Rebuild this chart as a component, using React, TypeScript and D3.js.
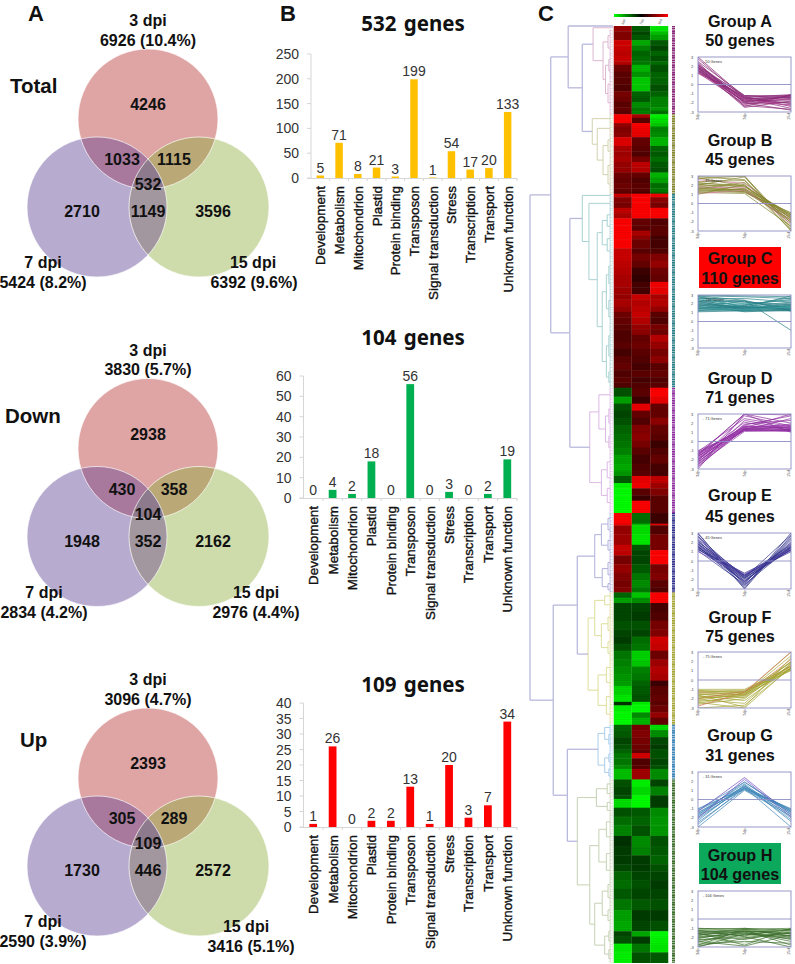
import React from "react";
import * as d3 from "d3";

const FONT = '"Liberation Sans", Arial, sans-serif';

// ---------- Panel A data ----------
const vennNames = ["Total", "Down", "Up"];
const vennRegions = [
  [4246, 1033, 1115, 532, 2710, 1149, 3596],
  [2938, 430, 358, 104, 1948, 352, 2162],
  [2393, 305, 289, 109, 1730, 446, 2572],
];
const vennTotals = [
  ["6926 (10.4%)", "5424 (8.2%)", "6392 (9.6%)"],
  ["3830 (5.7%)", "2834 (4.2%)", "2976 (4.4%)"],
  ["3096 (4.7%)", "2590 (3.9%)", "3416 (5.1%)"],
];
const vennDays = ["3 dpi", "7 dpi", "15 dpi"];

// ---------- Panel B data ----------
const categories = ["Development", "Metabolism", "Mitochondrion", "Plastid", "Protein binding", "Transposon", "Signal transduction", "Stress", "Transcription", "Transport", "Unknown function"];
const genes532 = [5, 71, 8, 21, 3, 199, 1, 54, 17, 20, 133];
const genes104 = [0, 4, 2, 18, 0, 56, 0, 3, 0, 2, 19];
const genes109 = [1, 26, 0, 2, 2, 13, 1, 20, 3, 7, 34];
const barTitles = ["532 genes", "104 genes", "109 genes"];

// ---------- Panel C data: heatmap rows [genes, 3 dpi, 7 dpi, 15 dpi] ----------
const rowsA = [[3,1.5,-0.9,-2.3],[2,1.3,-0.7,-1.9],[3,1.3,-0.9,-1.6],[3,2.1,-1.7,-0.9],[3,2.0,-1.3,-0.7],[3,1.9,-1.0,-1.0],[3,2.0,-1.1,-0.8],[2,1.8,-1.2,-1.1],[4,1.1,-1.8,-0.8],[3,0.9,-1.5,-1.0],[4,0.9,-2.0,-1.0],[4,0.8,-2.0,-0.8],[3,1.2,-1.0,-1.0],[3,1.1,-0.9,-1.3],[3,0.9,-1.4,-1.3],[2,1.0,-1.2,-1.5],[2,0.9,-1.3,-1.1]];
const rowsB = [[2,2.5,1.7,-2.4],[3,2.5,0.9,-2.2],[2,1.5,2.6,-2.0],[3,1.3,2.4,-1.3],[3,1.4,2.3,-1.4],[5,2.2,1.0,-1.8],[3,1.7,0.9,-1.0],[3,1.6,0.8,-0.9],[3,1.7,1.2,-1.1],[3,1.5,1.9,-0.9],[3,1.5,1.8,-0.8],[3,1.1,1.0,-1.8],[3,1.0,0.8,-1.6],[3,1.1,0.9,-1.1],[2,1.0,0.9,-1.2],[1,0.9,0.7,-1.0]];
const rowsC = [[2,2.0,2.6,2.4],[3,1.3,2.6,1.4],[3,1.2,2.5,1.2],[3,1.9,2.6,2.5],[3,1.7,2.5,2.6],[4,2.6,1.0,0.8],[3,2.6,0.9,0.9],[3,2.7,1.7,0.9],[2,2.6,1.4,0.7],[5,2.6,1.1,0.7],[3,2.0,0.9,0.8],[4,2.0,1.2,1.3],[4,1.9,1.0,1.5],[4,1.8,0.6,1.1],[4,1.7,0.5,1.0],[3,1.7,0.7,2.4],[4,1.6,0.7,2.3],[3,1.5,2.0,1.7],[4,1.7,1.8,1.8],[3,1.5,1.9,1.5],[3,1.1,2.0,0.9],[4,1.0,1.8,0.8],[3,0.9,1.5,1.2],[3,0.8,1.4,1.1],[4,0.8,1.0,1.8],[4,0.9,1.1,1.5],[4,0.7,0.9,1.2],[4,0.9,0.8,1.4],[4,1.0,0.7,0.9],[4,0.8,0.9,1.0],[3,0.9,0.7,0.8],[3,0.8,0.8,0.9]];
const rowsD = [[5,-0.8,0.9,2.5],[4,-1.6,0.6,2.3],[4,-0.8,2.3,1.0],[4,-0.7,1.0,1.0],[4,-0.8,0.8,1.4],[5,-1.0,1.3,1.0],[4,-1.1,1.4,0.9],[4,-1.2,1.2,0.6],[4,-1.3,0.9,0.8],[5,-1.6,0.7,1.0],[4,-1.7,0.8,0.7],[3,-1.5,0.9,0.7],[4,-0.9,2.3,1.9],[3,-2.4,2.4,1.6],[4,-2.6,0.9,1.3],[3,-2.6,0.6,0.9],[7,-2.6,2.6,0.9]];
const rowsE = [[6,2.5,-1.1,0.6],[1,2.3,-1.8,2.2],[5,1.5,-2.2,0.8],[6,1.6,-2.3,1.2],[3,2.0,-0.9,1.2],[3,1.9,-0.7,2.5],[5,1.2,-0.7,2.5],[5,1.5,-0.9,1.2],[4,1.3,-1.2,1.3],[4,1.2,-1.4,0.9],[3,1.3,-1.2,0.8]];
const rowsF = [[3,-1.0,-2.0,2.6],[3,-1.6,-1.4,2.6],[5,-0.7,-0.7,0.7],[5,-0.7,-0.6,0.8],[5,-0.8,-0.8,1.2],[4,-0.7,-0.7,1.3],[4,-0.6,-1.1,2.1],[4,-0.8,-1.2,2.0],[5,-1.2,-2.1,1.1],[4,-1.3,-2.0,1.6],[4,-1.4,-1.3,1.8],[4,-1.5,-1.2,1.7],[3,-1.6,-1.0,0.6],[5,-2.1,-0.9,0.9],[4,-2.3,-0.8,1.0],[2,-0.5,-2.4,0.9],[4,-2.4,-2.5,1.1],[3,-2.5,-1.4,1.5],[4,-2.6,-1.8,1.0]];
const rowsG = [[3,-1.0,1.2,-2.2],[4,-0.9,1.3,-1.4],[4,-0.7,1.2,-0.7],[3,-0.8,1.1,-0.6],[2,-1.0,1.0,-0.8],[3,-1.2,2.1,-0.8],[4,-1.2,0.8,-0.7],[2,-1.4,0.9,-0.8],[6,-1.9,1.6,-1.4]];
const rowsH = [[4,-0.8,-2.4,-0.7],[5,-0.7,-2.2,-1.3],[2,-0.8,-2.5,-0.6],[5,-2.2,-2.6,-0.6],[5,-0.8,-0.9,-1.4],[5,-1.1,-1.0,-1.5],[6,-1.3,-0.8,-1.5],[6,-0.5,-1.4,-0.8],[5,-0.6,-1.3,-0.9],[5,-0.6,-0.6,-1.0],[4,-0.7,-0.6,-0.8],[5,-1.0,-0.7,-0.7],[5,-1.1,-0.8,-0.6],[6,-0.9,-0.7,-0.7],[6,-1.2,-0.9,-0.8],[6,-1.6,-0.6,-0.6],[6,-1.7,-0.7,-0.8],[3,-0.7,-1.7,-2.5],[4,-0.8,-0.6,-2.4],[5,-2.3,-1.2,-2.3],[6,-2.4,-0.8,-0.9]];
const heatRows = [rowsA, rowsB, rowsC, rowsD, rowsE, rowsF, rowsG, rowsH];

const groupNames = ["Group A", "Group B", "Group C", "Group D", "Group E", "Group F", "Group G", "Group H"];
const groupGenes = [50, 45, 110, 71, 45, 75, 31, 104];
const groupColors = ["#8a2a78", "#85852e", "#2a8088", "#8f2f9f", "#34348f", "#a5a535", "#3f86b8", "#3c6f2c"];
const treeColors = ["#dcb6d0", "#d2d2ae", "#a9d2d2", "#dcb8e4", "#b0b0dc", "#dede9c", "#a8cdea", "#c6d2b4"];
const accentColors = ["#c04a98", "#d070a0", "#3aa0a0", "#b050c0", "#8050c0", "#d07050", "#7050c0", "#a0c090"];

// Cluster tree: [linkage height, child, child]; a plain number is a cluster of that many genes
const treeA = [24, 1, [12, [6, 7, 7], [9, [5, 6, 7], [6, 8, 13]]]];
const treeB = [25, 5, [19, 6, [12, [6, 7, 6], [6, 10, 11]]]];
const treeC = [37, 2, [29, 7, [19, [13, [7, 6, 7], [7, 7, 7]], [13, [8, [5, 10, 10], [5, 9, 10]], [8, [5, 11, 12], [5, 6, 6]]]]]];
const treeD = [28, [17, 8, [9, [5, 8, 8], [5, 7, 6]]], [14, [7, 10, 8], [7, 4, 12]]];
const treeE = [22, [14, [6, 6, 7], [6, 5, 6]], [13, [6, 8, 6], [6, 4, 3]]];
const treeF = [30, [22, [10, 4, 6], [14, [6, 8, 7], [6, 6, 7]]], [18, [8, 9, 8], [8, 8, 12]]];
const treeG = [18, [10, 3, [5, 5, 6]], [10, [5, 5, 4], [5, 4, 4]]];
const treeH = [43, [20, [7, 5, 6], [7, 4, 5]], [28, [17, [8, 8, 9], [8, 10, 9]], [22, [13, [6, 7, 8], [6, 6, 6]], [10, [5, 6, 5], [5, 5, 5]]]]];
const groupTrees = [treeA, treeB, treeC, treeD, treeE, treeF, treeG, treeH];
const fullTree = [100,
  [75, [54, 1, [37, treeA, treeB]], [52, treeC, treeD]],
  [72, [43, treeE, treeF], [55, treeG, treeH]],
];

// Expression profiles of sampled genes: [3 dpi, 7 dpi, 15 dpi]
const profA = [[3.0,-1.4,-2.1],[2.8,-1.5,-2.6],[2.5,-1.2,-1.3],[2.3,-1.8,-1.6],[2.2,-2.0,-1.2],[2.1,-1.3,-2.4],[2.0,-1.6,-1.2],[1.9,-2.5,-1.8],[1.9,-1.9,-2.2],[1.8,-1.4,-1.1],[1.7,-2.2,-1.5],[1.6,-1.7,-2.0],[1.6,-2.3,-2.7],[1.5,-1.5,-1.4],[1.4,-1.8,-1.7],[1.3,-2.1,-1.9],[1.3,-1.3,-1.2],[1.2,-1.6,-2.3],[2.4,-2.4,-1.1],[1.8,-2.0,-2.8],[2.1,-1.7,-1.4],[1.7,-1.5,-1.6],[1.5,-1.9,-1.3],[1.9,-1.2,-1.5]];
const profB = [[3.0,3.0,-2.8],[2.9,2.6,-3.0],[2.7,3.0,-2.4],[2.6,2.2,-1.6],[2.4,2.5,-2.1],[2.3,1.8,-1.3],[2.2,2.0,-1.9],[2.1,1.6,-1.1],[2.0,2.9,-2.6],[1.9,1.4,-1.5],[1.8,1.7,-2.2],[1.7,1.3,-1.2],[1.6,2.3,-1.7],[1.5,1.5,-2.0],[1.4,1.2,-1.0],[1.3,1.6,-1.4],[1.2,1.1,-2.5],[1.1,1.4,-1.8],[2.8,1.9,-1.2],[1.0,2.1,-2.9],[1.7,1.5,-1.6],[2.0,1.9,-1.4],[1.5,1.3,-1.8]];
const profC = [[2.9,2.4,-1.0],[2.9,2.8,2.6],[2.8,1.6,2.9],[2.7,2.0,1.3],[2.6,2.6,2.2],[2.5,1.4,2.0],[2.4,2.2,1.5],[2.3,1.8,2.7],[2.2,2.4,1.2],[2.1,1.3,1.8],[2.0,2.0,2.4],[1.9,1.7,1.4],[1.8,1.5,2.1],[1.7,2.3,1.6],[1.6,1.6,1.3],[1.5,1.2,1.9],[1.4,1.8,1.2],[1.3,1.4,1.6],[1.2,1.3,1.5],[1.1,1.2,1.3],[3.0,2.9,2.8],[2.2,1.5,1.7],[1.9,1.1,1.3],[1.5,1.9,2.5],[2.6,1.7,1.6],[2.3,1.3,1.4],[1.7,1.2,1.2],[2.0,1.6,1.5],[1.4,1.5,1.8],[1.2,1.7,2.2],[2.8,2.2,1.9],[1.6,1.3,1.7]];
const profD = [[-1.0,1.2,1.3],[-1.1,2.5,1.6],[-1.2,1.5,3.0],[-1.3,1.3,1.2],[-1.4,3.0,2.0],[-1.5,1.7,1.4],[-1.6,1.4,1.9],[-1.7,2.1,1.2],[-1.8,1.3,2.5],[-1.9,1.6,1.5],[-2.0,1.2,1.1],[-2.1,2.8,1.7],[-2.2,1.5,1.3],[-2.3,1.9,2.3],[-2.4,1.3,1.6],[-2.5,1.1,1.2],[-2.6,2.3,1.4],[-2.8,1.6,1.8],[-3.0,3.0,2.9],[-2.7,1.4,1.1],[-1.5,3.0,1.0],[-2.0,1.8,2.8],[-1.2,1.4,1.5],[-1.6,1.2,1.3],[-1.8,1.7,1.6],[-2.2,1.3,1.2],[-1.4,1.6,1.7]];
const profE = [[3.0,-2.9,3.0],[2.9,-2.6,2.2],[2.7,-3.0,2.7],[2.5,-2.2,1.9],[2.3,-1.6,1.5],[2.2,-2.4,2.5],[2.1,-1.8,1.2],[2.0,-1.5,1.7],[1.9,-2.0,1.4],[1.8,-2.3,2.0],[1.7,-1.4,1.1],[1.6,-1.7,1.6],[1.5,-2.1,1.3],[1.4,-1.5,1.0],[1.3,-1.9,1.8],[1.2,-1.3,1.2],[1.1,-2.5,1.5],[1.0,-1.6,1.3],[2.6,-1.8,2.8],[1.6,-2.7,2.4],[1.8,-1.6,1.4],[1.5,-1.8,1.2],[1.3,-2.2,1.6]];
const profF = [[-1.0,-1.0,1.4],[-1.1,-1.4,3.0],[-1.2,-1.1,1.2],[-1.3,-1.6,2.2],[-1.4,-1.2,1.0],[-1.5,-1.9,1.6],[-1.6,-1.3,1.9],[-1.7,-2.2,1.3],[-1.8,-1.5,2.6],[-1.9,-1.7,1.1],[-2.0,-1.2,1.5],[-2.1,-2.5,1.8],[-2.2,-1.4,1.2],[-2.3,-1.8,2.0],[-2.4,-3.0,1.4],[-2.5,-1.6,1.1],[-2.6,-2.0,1.7],[-2.8,-1.3,3.0],[-3.0,-2.7,1.3],[-1.6,-2.9,2.4],[-1.2,-1.3,1.3],[-1.5,-1.5,1.5],[-2.0,-1.6,1.9]];
const profG = [[-1.0,1.2,-1.0],[-1.1,1.9,-1.3],[-1.2,1.4,-1.1],[-1.3,2.4,-1.7],[-1.4,1.1,-1.2],[-1.5,1.7,-2.0],[-1.6,1.3,-1.4],[-1.7,1.9,-1.5],[-1.8,1.5,-2.2],[-1.9,1.2,-1.1],[-2.0,2.2,-1.9],[-2.1,1.4,-1.3],[-2.3,1.6,-2.4],[-2.5,1.1,-1.6],[-2.7,1.3,-3.0],[-3.0,1.0,-1.8]];
const profH = [[-1.0,-1.1,-1.0],[-1.0,-1.3,-1.1],[-1.1,-1.0,-1.2],[-1.2,-1.6,-1.0],[-1.3,-1.2,-1.5],[-1.4,-1.8,-1.1],[-1.5,-1.1,-1.9],[-1.6,-2.2,-1.3],[-1.7,-1.4,-2.4],[-1.8,-1.0,-1.6],[-1.9,-2.6,-1.2],[-2.0,-1.5,-2.0],[-2.1,-1.2,-2.8],[-2.2,-2.0,-1.4],[-2.3,-1.7,-1.1],[-2.4,-2.9,-1.7],[-2.5,-1.3,-2.2],[-2.6,-1.9,-1.3],[-2.7,-2.4,-2.6],[-2.8,-1.1,-1.8],[-2.9,-2.1,-1.5],[-3.0,-1.6,-2.1],[-1.5,-2.8,-1.0],[-1.2,-1.9,-3.0],[-1.1,-1.2,-1.3],[-1.3,-1.4,-1.2],[-1.6,-1.3,-1.6],[-1.9,-1.6,-1.8]];
const profiles = [profA, profB, profC, profD, profE, profF, profG, profH];
const profTicks = [3, 2, 1, 0, -1, -2, -3];
const profDays = ["3dp", "7dp", "15d"];

// ---------- Layout ----------
const vennOffset = [0, 329.5, 659];
const vennCircles = [[148, 119], [97, 207], [199, 207]];
const R = 70;
const regionPos = [[148, 110], [122, 165], [174, 165], [148, 190], [82, 217], [148, 217], [213, 217]];
// positions of the corner labels, per Venn: [7 dpi x, 15 dpi name x, 15 dpi total x, 15 dpi y shift]
const vennLabelPos = [[43, 253, 254, 0], [44, 256, 256, 0], [43, 246, 251, 5]];

function Venn({ index }: { index: number }) {
  const dy = vennOffset[index];
  const [a, b, c] = vennCircles;
  const id = (k: number) => `vc${index}${k}`;
  const [x7, x15a, x15b, sh] = vennLabelPos[index];
  const bold = { fontFamily: FONT, fontWeight: 700, fontSize: 16, fill: "#111", textAnchor: "middle" } as any;
  return (
    <g transform={`translate(0,${dy})`}>
      <defs>
        {vennCircles.map((p, k) => (
          <clipPath id={id(k)} key={k}><circle cx={p[0]} cy={p[1]} r={R} /></clipPath>
        ))}
      </defs>
      <circle cx={a[0]} cy={a[1]} r={R} fill="#dfa5a5" />
      <circle cx={b[0]} cy={b[1]} r={R} fill="#b8abd0" />
      <circle cx={c[0]} cy={c[1]} r={R} fill="#cedcab" />
      <g clipPath={`url(#${id(0)})`}><circle cx={b[0]} cy={b[1]} r={R} fill="#a8799d" /></g>
      <g clipPath={`url(#${id(0)})`}><circle cx={c[0]} cy={c[1]} r={R} fill="#baa876" /></g>
      <g clipPath={`url(#${id(1)})`}><circle cx={c[0]} cy={c[1]} r={R} fill="#a3979f" /></g>
      <g clipPath={`url(#${id(0)})`}><g clipPath={`url(#${id(1)})`}><circle cx={c[0]} cy={c[1]} r={R} fill="#8d7a8c" /></g></g>
      {vennCircles.map((p, k) => (
        <circle key={k} cx={p[0]} cy={p[1]} r={R} fill="none" stroke="#fff" strokeWidth={0.8} opacity={0.85} />
      ))}
      {vennRegions[index].map((v, k) => (
        <text key={k} x={regionPos[k][0]} y={regionPos[k][1]} {...bold}>{v}</text>
      ))}
      <text x={148} y={26} {...bold}>{vennDays[0]}</text>
      <text x={148} y={45.5} {...bold}>{vennTotals[index][0]}</text>
      <text x={x7} y={268} {...bold}>{vennDays[1]}</text>
      <text x={x7} y={288} {...bold}>{vennTotals[index][1]}</text>
      <text x={x15a} y={268 + sh} {...bold}>{vennDays[2]}</text>
      <text x={x15b} y={288 + sh} {...bold}>{vennTotals[index][2]}</text>
    </g>
  );
}

const barCfg = [
  { vals: genes532, max: 250, step: 50, color: "#ffc000", top: 54, bottom: 178, axis: 311, titleY: 31 },
  { vals: genes104, max: 60, step: 10, color: "#00b050", top: 376, bottom: 498, axis: 303.5, titleY: 345 },
  { vals: genes109, max: 40, step: 5, color: "#ff0000", top: 703, bottom: 827, axis: 303.5, titleY: 692 },
];

function Bars({ index }: { index: number }) {
  const cfg = barCfg[index];
  const x = d3.scaleBand<string>().domain(categories).range([cfg.axis, 517]).paddingInner(0.6).paddingOuter(0.3);
  const y = d3.scaleLinear().domain([0, cfg.max]).range([cfg.bottom, cfg.top]);
  const ticks = d3.range(0, cfg.max + cfg.step, cfg.step);
  const step = x.step();
  return (
    <g>
      <text x={413} y={cfg.titleY} fontFamily='"Noto Sans", sans-serif' fontWeight={700} fontSize={20.5} fill="#111" textAnchor="middle" style={{ wordSpacing: 2 }}>{barTitles[index]}</text>
      <line x1={cfg.axis} x2={cfg.axis} y1={cfg.top} y2={cfg.bottom} stroke="#d6d6d6" />
      <line x1={cfg.axis - 4} x2={517} y1={cfg.bottom + 0.5} y2={cfg.bottom + 0.5} stroke="#d6d6d6" />
      {ticks.map(t => (
        <g key={t}>
          <line x1={cfg.axis - 4} x2={cfg.axis} y1={y(t)} y2={y(t)} stroke="#d6d6d6" />
          <text x={cfg.axis - 12} y={y(t) + 5} fontFamily={FONT} fontSize={14} fill="#333" textAnchor="end">{t}</text>
        </g>
      ))}
      {categories.map((c, i) => {
        const bx = x(c) as number;
        const cx = bx + x.bandwidth() / 2;
        return (
          <g key={c}>
            <line x1={cx + step / 2} x2={cx + step / 2} y1={cfg.bottom} y2={cfg.bottom + 3} stroke="#d6d6d6" />
            <rect x={bx} y={y(cfg.vals[i])} width={x.bandwidth()} height={cfg.bottom - y(cfg.vals[i])} fill={cfg.color} />
            <text x={cx} y={y(cfg.vals[i]) - 3} fontFamily={FONT} fontSize={14} fill="#333" textAnchor="middle">{cfg.vals[i]}</text>
            <text transform={`translate(${cx + 5},${cfg.bottom + 8}) rotate(-90)`} fontFamily={FONT} fontSize={13.4} fill="#111" stroke="#111" strokeWidth={0.35} textAnchor="end">{c}</text>
          </g>
        );
      })}
    </g>
  );
}

// ---------- Heatmap + dendrogram ----------
const totalGenes = d3.sum(groupGenes);
const geneY = d3.scaleLinear().domain([0, totalGenes]).range([26, 963]);
const heatX = d3.scaleBand<number>().domain([0, 1, 2]).range([613.5, 668.5]);
const heatColor = d3.scaleLinear<string>().domain([-2.5, 0, 2.5]).range(["#00ff00", "#000000", "#ff0000"]).clamp(true);
const treeX = d3.scaleLinear().domain([100, 0]).range([530, 613]);

function Heatmap() {
  let cursor = 0;
  const cells: any[] = [];
  heatRows.forEach((rows, g) => {
    rows.forEach((r, i) => {
      const y0 = geneY(cursor), y1 = geneY(cursor + r[0]);
      cursor += r[0];
      [0, 1, 2].forEach(k => cells.push(
        <rect key={`${g}-${i}-${k}`} x={heatX(k)} y={y0} width={heatX.bandwidth()} height={y1 - y0 + 0.4} fill={heatColor(r[k + 1])} />
      ));
    });
  });
  let off = 0;
  return (
    <g>
      <defs>
        <linearGradient id="hbar">
          <stop offset="0" stopColor="#00ff00" /><stop offset="0.5" stopColor="#000" /><stop offset="1" stopColor="#ff0000" />
        </linearGradient>
        <clipPath id="hclip"><rect x={613.5} y={26} width={55} height={937} /></clipPath>
        <filter id="soft" x="-2%" y="-1%" width="104%" height="102%"><feGaussianBlur stdDeviation="0.45" /></filter>
      </defs>
      <rect x={614} y={14} width={54} height={3} fill="url(#hbar)" />
      {heatX.domain().map(k => (
        <text key={k} transform={`translate(${(heatX(k) as number) + 10},25) rotate(-70)`} fontFamily={FONT} fontSize={3.5} fill="#555">{profDays[k]}</text>
      ))}
      <g clipPath="url(#hclip)">
        <g filter="url(#soft)">{cells}</g>
        {d3.range(1, totalGenes).map(i => (
          <line key={i} x1={613.5} x2={668.5} y1={geneY(i)} y2={geneY(i)} stroke="#000" strokeWidth={0.5} opacity={0.13} />
        ))}
      </g>
      {groupGenes.map((n, g) => {
        const y0 = geneY(off), y1 = geneY(off + n);
        off += n;
        return <line key={g} x1={673.5} x2={673.5} y1={y0} y2={y1} stroke={groupColors[g]} strokeWidth={3} strokeDasharray="1.3 0.4" />;
      })}
    </g>
  );
}

function Dendrogram() {
  const root = d3.hierarchy<any>(fullTree, d => (Array.isArray(d) ? d.slice(1) : null));
  const segs: any[] = [];
  let cursor = 0;
  const walk = (node: any, color: string): number => {
    if (!node.children) {
      const n = node.data as number;
      const y0 = geneY(cursor), y1 = geneY(cursor + n);
      if (n === 1) { cursor += n; return y0; }
      const comb = treeX(3.5);
      d3.range(n).forEach(i => {
        const gy = geneY(cursor + i + 0.5);
        segs.push({ x1: i % 2 ? comb + 1.6 : comb, y1: gy, x2: 613, y2: gy, c: color, w: 0.6 });
      });
      segs.push({ x1: comb, y1: y0, x2: comb, y2: y1, c: color, w: 0.8 });
      cursor += n;
      return (y0 + y1) / 2;
    }
    const gi = groupTrees.indexOf(node.data);
    const col = gi >= 0 ? treeColors[gi] : color;
    const ys = node.children.map((ch: any) => walk(ch, col));
    const x = treeX(node.data[0]);
    const mid = (ys[0] + ys[ys.length - 1]) / 2;
    segs.push({ x1: x, y1: ys[0], x2: x, y2: ys[ys.length - 1], c: col, w: gi >= 0 || col !== "#b9b9dd" ? 1 : 1.3 });
    node.children.forEach((ch: any, i: number) => {
      const chX = ch.children ? treeX(ch.data[0]) : ch.data === 1 ? 613 : treeX(3.5);
      segs.push({ x1: x, y1: ys[i], x2: chX, y2: ys[i], c: col, w: col !== "#b9b9dd" ? 1 : 1.3 });
    });
    return mid;
  };
  walk(root, "#b9b9dd");
  return <g>{segs.map((s, i) => <line key={i} x1={s.x1} y1={s.y1} x2={s.x2} y2={s.y2} stroke={s.c} strokeWidth={s.w} />)}</g>;
}

// ---------- Profiles ----------
const panelBoxes = [[57, 112], [176, 231], [295, 348], [414, 469], [533, 589], [652, 708], [772, 827], [891, 947]];
const titleYs = [[21, 40], [140, 159], [258, 278], [378, 397], [495, 516], [617, 636], [735, 755], [855, 874]];
const banners: Record<number, string> = { 2: "#ff0000", 7: "#0ca85c" };
const bannerBoxes: Record<number, number[]> = { 2: [247, 288], 7: [843, 884] };

function Profile({ g }: { g: number }) {
  const [top, bottom] = panelBoxes[g];
  const x = d3.scalePoint<number>().domain([0, 1, 2]).range([698, 791]);
  const y = d3.scaleLinear().domain([-3, 3]).range([bottom, top]);
  const line = d3.line<number>().x((_, i) => x(i) as number).y(d => y(d));
  const lines = profiles[g];
  return (
    <g>
      <defs><clipPath id={`pb${g}`}><rect x={698} y={top} width={93} height={bottom - top} /></clipPath></defs>
      <g clipPath={`url(#pb${g})`}>
        {lines.map((d, i) => (
          <path key={i} d={line(d) as string} fill="none" stroke={i % 7 === 3 ? accentColors[g] : groupColors[g]} strokeWidth={1} opacity={0.7} />
        ))}
      </g>
      <rect x={698} y={top} width={93} height={bottom - top} fill="none" stroke="#8d8dc4" strokeWidth={0.9} />
      <line x1={698} x2={791} y1={y(0)} y2={y(0)} stroke="#8d8dc4" strokeWidth={0.9} />
      {profTicks.map(t => (
        <text key={t} x={692} y={y(t) + 1.5} fontFamily={FONT} fontSize={4} fill="#444" textAnchor="middle">{t}</text>
      ))}
      {x.domain().map(k => (
        <text key={k} transform={`translate(${Math.min((x(k) as number) + 1, 790)},${bottom + 8}) rotate(-90)`} fontFamily={FONT} fontSize={4} fill="#444">{profDays[k]}</text>
      ))}
      <text x={703} y={top + 5.5} fontFamily={FONT} fontSize={3.8} fill="#333">- {groupGenes[g]} Genes</text>
    </g>
  );
}

function GroupTitle({ g }: { g: number }) {
  const [y1, y2] = titleYs[g];
  const bold = { fontFamily: FONT, fontWeight: 700, fontSize: 16.2, fill: "#111", textAnchor: "middle" } as any;
  return (
    <g>
      {banners[g] && <rect x={699} y={bannerBoxes[g][0]} width={82} height={bannerBoxes[g][1] - bannerBoxes[g][0]} fill={banners[g]} />}
      <text x={740} y={y1 + 6} {...bold}>{groupNames[g]}</text>
      <text x={740} y={y2 + 6} {...bold}>{groupGenes[g]} genes</text>
    </g>
  );
}

export default function App() {
  const letter = { fontFamily: FONT, fontWeight: 700, fontSize: 22, fill: "#111" } as any;
  const side = { fontFamily: FONT, fontWeight: 700, fontSize: 20.5, fill: "#111" } as any;
  return (
    <svg width={795} height={964} viewBox="0 0 795 964" style={{ position: "absolute", left: 0, top: 0, background: "#fff" }}>
      <text x={28} y={20.5} {...letter}>A</text>
      <text x={280} y={20.5} {...letter}>B</text>
      <text x={538} y={20.5} {...letter}>C</text>
      <text x={10} y={93} {...side}>{vennNames[0]}</text>
      <text x={5} y={423} {...side}>{vennNames[1]}</text>
      <text x={20} y={747} {...side}>{vennNames[2]}</text>
      {vennNames.map((_, i) => <Venn key={i} index={i} />)}
      {barCfg.map((_, i) => <Bars key={i} index={i} />)}
      <Dendrogram />
      <Heatmap />
      {groupNames.map((_, g) => <g key={g}><GroupTitle g={g} /><Profile g={g} /></g>)}
    </svg>
  );
}
